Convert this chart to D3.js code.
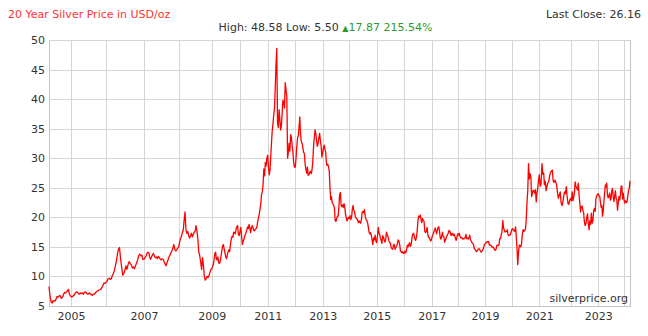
<!DOCTYPE html>
<html>
<head>
<meta charset="utf-8">
<script src="https://cdn.jsdelivr.net/npm/d3@7"></script>
<style>
  html, body { margin: 0; padding: 0; background: #fff; }
  svg { display: block; font-family: "DejaVu Sans", Verdana, sans-serif; }
</style>
</head>
<body>
<svg id="chart" width="648" height="336"></svg>
<script>
// Silver spot price, USD/oz, three readings per month (days 1, 11, 21), from April 2004.
const startMonth = "2004-04";
const silver2004 = [8.29,7.0,6.1, 5.6,5.5,5.9, 5.8,5.9,5.9, 6.3,6.6,6.5, 6.6,6.8,6.7, 6.3,6.4,6.6, 7.0,7.3,7.2, 7.3,7.5,7.6, 7.8,7.0,6.8];
const silver2005 = [6.6,6.5,6.7, 6.8,7.1,7.3, 7.4,7.3,7.1, 7.0,7.2,7.1, 7.2,7.0,7.3, 7.4,7.2,7.0, 7.0,7.2,7.1, 6.9,6.8,7.0, 7.0,7.2,7.4, 7.5,7.6,7.7, 7.8,7.9,8.2, 8.5,8.9,8.8];
const silver2006 = [9.0,9.2,9.6, 9.7,9.5,9.6, 10.1,10.4,10.9, 11.8,12.6,13.8, 14.6,14.9,13.0, 11.5,10.2,10.5, 11.0,11.8,11.2, 12.0,12.5,12.2, 12.0,11.4,11.6, 11.3,11.8,12.2, 12.8,13.5,13.8, 13.5,13.6,12.9];
const silver2007 = [12.9,13.2,13.4, 13.9,14.1,14.0, 13.3,12.9,13.3, 13.7,13.9,13.4, 13.2,13.3,13.0, 13.4,13.2,12.9, 12.8,13.0,12.9, 12.5,12.1,11.8, 12.4,12.8,13.3, 13.6,14.0,14.3, 14.8,15.4,14.6, 14.3,14.5,14.8];
const silver2008 = [15.0,15.8,16.4, 16.8,17.4,17.9, 19.5,20.9,18.0, 17.3,17.6,16.9, 16.5,16.9,17.3, 16.7,17.1,17.5, 17.6,18.6,17.8, 16.2,14.1,13.5, 12.4,11.2,13.2, 11.9,10.1,9.4, 9.6,10.0,9.8, 10.1,10.6,11.1];
const silver2009 = [11.3,11.6,12.0, 12.8,13.9,14.1, 13.0,12.8,13.3, 12.3,12.2,12.6, 13.4,14.3,15.1, 15.4,14.6,14.0, 13.3,13.0,13.6, 14.2,14.5,14.2, 15.6,16.4,16.8, 16.6,17.5,17.4, 17.2,18.0,18.4, 18.6,17.1,16.9];
const silver2010 = [17.6,18.3,17.0, 15.4,15.9,16.3, 16.6,17.1,17.4, 17.9,18.4,18.1, 18.8,18.2,17.4, 18.2,18.6,18.3, 17.8,17.7,18.0, 18.1,18.3,19.2, 19.9,20.5,21.3, 22.2,23.8,24.3, 25.5,28.2,27.0, 29.3,28.7,30.0];
const silver2011 = [30.5,28.5,27.2, 28.0,30.5,32.8, 34.5,35.7,37.2, 38.5,42.0,45.8, 48.58,36.0,35.2, 38.2,36.5,34.8, 35.5,37.6,39.8, 39.5,38.5,42.8, 41.5,40.3,30.0, 31.0,32.5,31.2, 34.0,33.5,32.0, 31.0,29.2,28.5];
const silver2012 = [28.5,30.0,32.0, 33.5,33.8,35.5, 37.0,34.0,32.8, 32.5,31.8,31.0, 30.8,29.0,28.2, 27.5,28.5,27.1, 27.2,27.6,27.8, 27.4,28.0,29.3, 32.0,33.5,34.8, 34.2,33.0,32.0, 32.5,33.5,34.2, 33.0,32.1,30.2];
const silver2013 = [31.0,31.8,32.2, 31.5,31.0,29.2, 28.8,29.0,28.6, 27.8,25.0,23.0, 23.5,22.5,22.3, 22.0,21.6,19.5, 19.3,19.8,20.2, 20.2,21.8,23.8, 24.2,22.0,21.8, 22.1,21.7,22.3, 21.6,20.4,19.9, 19.4,19.8,20.0];
const silver2014 = [19.8,20.3,19.6, 20.1,21.5,22.0, 21.2,21.0,20.2, 19.9,19.7,19.6, 19.1,19.4,19.2, 19.0,19.6,20.8, 21.0,20.8,21.3, 20.2,19.7,19.5, 19.1,18.4,17.5, 17.2,17.4,17.0, 16.2,15.4,16.5, 16.2,17.0,16.0];
const silver2015 = [15.7,16.8,18.3, 17.3,17.0,16.4, 16.1,15.6,16.9, 16.6,16.1,15.8, 16.4,17.5,17.0, 16.7,16.0,15.8, 15.6,14.9,14.7, 14.6,15.3,15.4, 14.6,14.9,15.1, 15.5,16.2,16.0, 15.4,14.3,14.2, 14.0,14.2,13.9];
const silver2016 = [13.9,14.3,14.0, 14.6,15.3,15.0, 15.4,15.7,15.1, 15.3,16.3,17.1, 17.3,17.0,16.4, 16.1,16.6,17.7, 19.4,20.2,20.0, 20.4,19.8,19.1, 19.8,19.5,19.3, 17.6,17.4,17.6, 18.3,17.0,16.6, 16.6,16.2,16.0];
const silver2017 = [16.4,16.9,17.1, 17.6,17.9,18.2, 17.7,17.2,17.8, 18.3,18.4,17.6, 16.5,16.3,16.8, 17.5,16.8,16.7, 15.8,16.1,16.4, 16.8,17.1,17.3, 17.8,17.7,17.3, 16.9,17.3,17.2, 16.9,17.2,16.9, 16.4,16.1,16.7];
const silver2018 = [17.2,17.0,17.3, 16.8,16.5,16.6, 16.5,16.3,16.4, 16.4,16.6,17.1, 16.4,16.5,16.3, 16.6,17.0,16.2, 16.0,15.7,15.6, 15.4,14.7,14.6, 14.3,14.2,14.4, 14.6,14.7,14.6, 14.3,14.1,14.3, 14.5,14.7,15.3];
const silver2019 = [15.5,15.6,15.8, 15.9,15.8,15.9, 15.3,15.3,15.3, 15.1,14.9,15.0, 14.8,14.5,14.4, 14.6,15.2,15.3, 15.2,15.3,16.4, 16.4,17.1,17.5, 19.5,18.2,17.9, 17.5,17.6,17.6, 17.9,17.1,16.9, 17.0,17.0,17.3];
const silver2020 = [17.9,18.1,17.9, 17.7,17.6,18.4, 16.9,14.8,12.0, 14.2,15.3,15.2, 15.0,15.6,17.2, 17.9,17.6,17.8, 18.0,19.4,22.3, 24.5,29.1,26.5, 27.4,26.9,23.5, 24.0,24.6,24.5, 24.1,24.7,22.6, 24.0,24.8,26.2];
const silver2021 = [27.2,25.3,25.5, 29.1,27.3,27.5, 25.5,26.1,24.5, 25.3,25.8,26.1, 27.0,27.6,27.8, 28.0,26.2,25.9, 26.3,26.0,25.5, 24.1,23.2,23.8, 24.3,22.5,22.0, 22.5,23.5,24.3, 24.0,25.2,23.5, 22.3,22.2,22.9];
const silver2022 = [23.2,22.8,24.3, 22.8,23.5,24.4, 26.0,25.2,25.0, 24.6,25.8,23.8, 22.5,20.9,21.8, 21.9,21.2,20.8, 19.2,18.6,18.9, 20.0,20.6,19.0, 17.9,19.4,18.8, 20.7,19.0,19.4, 21.2,21.5,21.0, 23.2,23.6,23.9];
const silver2023 = [24.0,23.6,23.6, 22.5,21.7,22.0, 20.2,20.9,22.6, 24.1,25.5,25.1, 25.8,23.8,23.3, 23.6,24.1,22.9, 23.1,24.5,24.9, 23.5,22.7,23.6, 24.5,23.2,23.0, 21.2,22.4,23.5, 22.9,23.8,25.2, 25.3,23.1,24.1];
const silver2024 = [23.0,22.4,22.8, 22.6,22.5,23.0, 23.8,24.6,24.9, 26.16];

// Axis ticks and labels
const gridYears = [2005,2006,2007,2008,2009,2010,2011,2012,2013,2014,2015,2016,2017,2018,2019,2020,2021,2022,2023,2024];
const labelYears = [2005,2007,2009,2011,2013,2015,2017,2019,2021,2023];
const priceTicks = [5,10,15,20,25,30,35,40,45,50];
const changePct = 215.54;

// ---- chart ----
const svg = d3.select("#chart");
const plot = { left: 49, right: 630, top: 40, bottom: 306 };

const prices = [].concat(silver2004, silver2005, silver2006, silver2007, silver2008, silver2009,
  silver2010, silver2011, silver2012, silver2013, silver2014, silver2015, silver2016, silver2017,
  silver2018, silver2019, silver2020, silver2021, silver2022, silver2023, silver2024);

const t0 = d3.timeParse("%Y-%m")(startMonth);
const series = prices.map((v, i) => ({
  date: new Date(t0.getFullYear(), t0.getMonth() + Math.floor(i / 3), 1 + 10 * (i % 3)),
  value: v
}));

// The time axis is piecewise: each calendar year gets its own width on the axis.
const yearEdges = [71, 106, 144, 178.7, 211.7, 240, 267.7, 295.3, 322.7, 349.3, 376.7,
                   404.3, 431.7, 457.7, 485, 511.7, 539.3, 570.7, 598.3, 624];
const x = d3.scaleTime()
  .domain([series[0].date, ...gridYears.map(y => new Date(y, 0, 1)), series[series.length - 1].date])
  .range([plot.left, ...yearEdges, plot.right]);

const y = d3.scaleLinear().domain([5, 50]).range([plot.bottom, plot.top]);

// grid
const grid = svg.append("g").attr("stroke", "#d6d6d6").attr("stroke-width", 1).attr("shape-rendering", "crispEdges");
grid.selectAll("line.h").data(priceTicks).join("line")
  .attr("class", "h")
  .attr("x1", plot.left).attr("x2", plot.right)
  .attr("y1", d => Math.round(y(d)) + 0.5).attr("y2", d => Math.round(y(d)) + 0.5);
grid.selectAll("line.v").data(gridYears).join("line")
  .attr("class", "v")
  .attr("x1", d => Math.round(x(new Date(d, 0, 1))) + 0.5).attr("x2", d => Math.round(x(new Date(d, 0, 1))) + 0.5)
  .attr("y1", plot.top).attr("y2", plot.bottom + 1);

// frame
svg.append("path")
  .attr("d", `M${plot.left + 0.5},${plot.top}V${plot.bottom + 0.5}H${plot.right + 0.5}V${plot.top}`)
  .attr("fill", "none").attr("stroke", "#c4c4c4").attr("shape-rendering", "crispEdges");

// axes
const yAxis = svg.append("g")
  .attr("transform", `translate(${plot.left},0)`)
  .call(d3.axisLeft(y).tickValues(priceTicks).tickSize(0).tickPadding(4).tickFormat(d3.format("d")));
const xAxis = svg.append("g")
  .attr("transform", `translate(0,${plot.bottom})`)
  .call(d3.axisBottom(x).tickValues(labelYears.map(yr => new Date(yr, 0, 1))).tickSize(0).tickPadding(6).tickFormat(d3.timeFormat("%Y")));
[yAxis, xAxis].forEach(a => {
  a.select(".domain").remove();
  a.selectAll("text").attr("fill", "#333").attr("font-size", 11).attr("font-family", "DejaVu Sans, Verdana, sans-serif");
});

// price line
svg.append("path")
  .datum(series)
  .attr("fill", "none")
  .attr("stroke", "#ff0000")
  .attr("stroke-width", 1.3)
  .attr("stroke-linejoin", "round")
  .attr("d", d3.line().x(d => x(d.date)).y(d => y(d.value)));

// header
const high = d3.max(prices), low = d3.min(prices);
const first = prices[0], last = prices[prices.length - 1];
const fmt = d3.format(".2f");

svg.append("text").attr("x", 8).attr("y", 18)
  .attr("font-size", 11).attr("fill", "#ff3333")
  .text("20 Year Silver Price in USD/oz");

svg.append("text").attr("x", 641).attr("y", 18).attr("text-anchor", "end")
  .attr("font-size", 11).attr("fill", "#333")
  .text(`Last Close: ${fmt(last)}`);

const stats = svg.append("text").attr("x", 325.5).attr("y", 30.5).attr("text-anchor", "middle").attr("font-size", 11);
stats.append("tspan").attr("fill", "#333").text(`High: ${fmt(high)} Low: ${fmt(low)} `);
stats.append("tspan").attr("fill", "#2e9a2e").attr("font-size", 8).text("\u25B2");
stats.append("tspan").attr("fill", "#2e9a2e").text(`${fmt(last - first)} ${fmt(changePct)}%`);

// source
svg.append("text").attr("x", 628).attr("y", 302).attr("text-anchor", "end")
  .attr("font-size", 11).attr("fill", "#333")
  .text("silverprice.org");
</script>
</body>
</html>
